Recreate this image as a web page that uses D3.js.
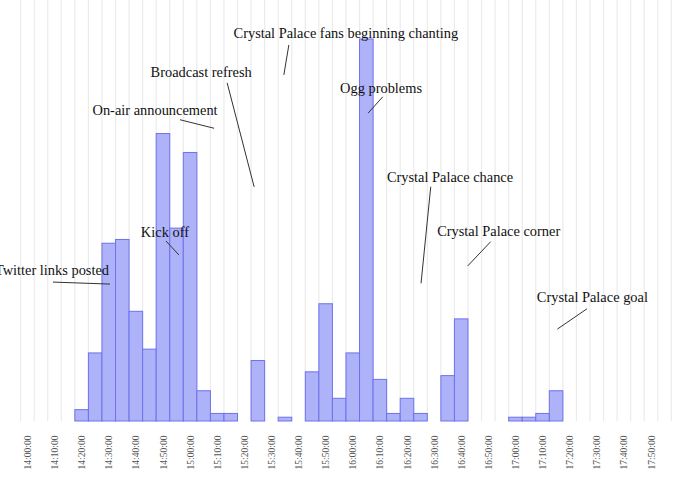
<!DOCTYPE html>
<html>
<head>
<meta charset="utf-8">
<script src="https://cdn.jsdelivr.net/npm/d3@7"></script>
<style>
  html, body { margin: 0; padding: 0; background: #fff; }
  svg { display: block; }
</style>
</head>
<body>
<svg id="chart" width="676" height="478"></svg>
<script>
// ---- data ----
const binTimes = ["14:20","14:25","14:30","14:35","14:40","14:45","14:50","14:55","15:00","15:05",
  "15:10","15:15","15:20","15:25","15:30","15:35","15:40","15:45","15:50","15:55",
  "16:00","16:05","16:10","16:15","16:20","16:25","16:30","16:35","16:40","16:45",
  "16:50","16:55","17:00","17:05","17:10","17:15"];
const counts = [3,18,47,48,29,19,76,51,71,8,
  2,2,0,16,0,1,0,13,31,6,
  18,101,11,2,6,2,0,12,27,0,
  0,0,1,1,2,8];
const tickLabels = ["14:00:00","14:10:00","14:20:00","14:30:00","14:40:00","14:50:00",
  "15:00:00","15:10:00","15:20:00","15:30:00","15:40:00","15:50:00",
  "16:00:00","16:10:00","16:20:00","16:30:00","16:40:00","16:50:00",
  "17:00:00","17:10:00","17:20:00","17:30:00","17:40:00","17:50:00"];
const annotLabels = ["Twitter links posted","Kick off","On-air announcement","Broadcast refresh",
  "Crystal Palace fans beginning chanting","Ogg problems","Crystal Palace chance",
  "Crystal Palace corner","Crystal Palace goal"];
const annotTimes = ["14:30:27","14:55:53","15:08:51","15:23:38","15:34:35","16:05:39","16:25:11","16:42:24","17:15:28"];
const annotValues = [36.2,43.9,77.4,61.9,91.5,81.4,36.4,41,24.3];

// ---- layout (pixel offsets of annotation line start and label relative to target) ----
const annotLayout = [
  {lx:-57, ly:-2,   tx:-58, ty:-9},
  {lx:-13, ly:-14,  tx:-14, ty:-18},
  {lx:-34, ly:-8.5, tx:-59, ty:-13.5},
  {lx:-27, ly:-104, tx:-53, ty:-110},
  {lx:5,   ly:-30,  tx:62,  ty:-37},
  {lx:14.7,ly:-16.3,tx:13,  ty:-20},
  {lx:9.7, ly:-96.6,tx:29,  ty:-101},
  {lx:23,  ly:-24.3,tx:31,  ty:-30},
  {lx:29.6,ly:-20.3,tx:35,  ty:-27}
];

const parse = d3.timeParse("%H:%M:%S");
const p = s => parse(s.length === 5 ? s + ":00" : s);
const svg = d3.select("#chart");

const x = d3.scaleTime().domain([p("14:00"), p("17:50")]).range([27.4, 651]);
const y = d3.scaleLinear().domain([0, d3.max(counts)]).range([421, 39]);
const halfStep = (x(p("14:05")) - x(p("14:00"))) / 2;

// gridlines at bin edges
const gridTimes = d3.timeMinute.every(5).range(p("14:00"), p("18:00:01"));
svg.append("g").selectAll("line").data(gridTimes).join("line")
  .attr("x1", d => x(d) - halfStep).attr("x2", d => x(d) - halfStep)
  .attr("y1", 0).attr("y2", y(0))
  .attr("stroke", "#ebebeb").attr("stroke-width", 1.2);

// bars
const data = binTimes.map((t, i) => ({t: p(t), v: counts[i]}));
svg.append("g").selectAll("rect").data(data.filter(d => d.v > 0)).join("rect")
  .attr("x", d => x(d.t) - halfStep)
  .attr("width", halfStep * 2)
  .attr("y", d => y(d.v))
  .attr("height", d => y(0) - y(d.v))
  .attr("fill", "#aeb2f9")
  .attr("stroke", "#6c73ec")
  .attr("stroke-width", 1);

// x axis labels
const axis = d3.axisBottom(x)
  .tickValues(tickLabels.map(p))
  .tickFormat(d3.timeFormat("%H:%M:%S"))
  .tickSize(0);
const gx = svg.append("g").attr("transform", "translate(0,452.5)").call(axis);
gx.select(".domain").remove();
gx.selectAll("text")
  .attr("transform", "rotate(-90)")
  .attr("x", 0).attr("y", 0).attr("dy", "0.32em")
  .attr("text-anchor", "middle")
  .attr("font-family", "'Liberation Serif', 'Times New Roman', serif")
  .attr("font-size", 9.5)
  .attr("fill", "#555");

// annotations
const ann = annotLabels.map((label, i) => ({
  label, px: x(p(annotTimes[i])), py: y(annotValues[i]), ...annotLayout[i]
}));
const ga = svg.append("g");
ga.selectAll("line").data(ann).join("line")
  .attr("x1", d => d.px + d.lx).attr("y1", d => d.py + d.ly)
  .attr("x2", d => d.px).attr("y2", d => d.py)
  .attr("stroke", "#333").attr("stroke-width", 1);
ga.selectAll("text").data(ann).join("text")
  .attr("x", d => d.px + d.tx).attr("y", d => d.py + d.ty)
  .attr("text-anchor", "middle")
  .attr("font-family", "'Liberation Serif', 'Times New Roman', serif")
  .attr("font-size", 14.4)
  .attr("fill", "#111")
  .text(d => d.label);
</script>
</body>
</html>
